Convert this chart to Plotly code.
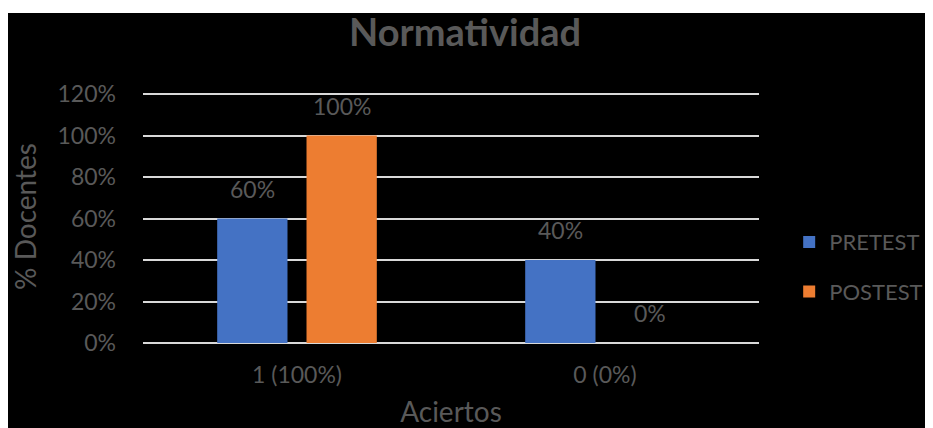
import plotly.graph_objects as go

categories = ["1 (100%)", "0 (0%)"]
pretest = [0.60, 0.40]
postest = [1.00, 0.00]
series_names = ["PRETEST", "POSTEST"]
colors = ["#4472C4", "#ED7D31"]
y_ticks = [0, 0.2, 0.4, 0.6, 0.8, 1.0, 1.2]
y_ticklabels = ["0%", "20%", "40%", "60%", "80%", "100%", "120%"]

TXT = "#595959"
FONT = "Lato"

W, H = 925, 420
L, R, T, B = 135, 174, 82, 85
pw, ph = W - L - R, H - T - B
ytop = 1.2 * ph / 249.0

fig = go.Figure()
for i, (name, vals) in enumerate(zip(series_names, [pretest, postest])):
    fig.add_trace(go.Bar(
        x=categories, y=vals, name=name, marker_color=colors[i],
        marker_line_width=0, legendgroup=name,
    ))

# data labels
slot = pw / len(categories) * (1 - 0.42) / 2
for i, vals in enumerate([pretest, postest]):
    shift = (i - 0.5) * slot
    for c, v in zip(categories, vals):
        fig.add_annotation(
            x=c, y=v, text=f"{round(v*100)}%", showarrow=False,
            xshift=shift, yshift=30, yanchor="middle",
            font=dict(family=FONT, size=23, color=TXT),
        )

# black background panel
fig.add_shape(
    type="rect", xref="paper", yref="paper",
    x0=(0 - L) / pw, x1=(W + 20 - L) / pw,
    y0=-(B + 40) / ph, y1=(H - B - 5) / ph,
    fillcolor="black", line_width=0, layer="below",
)

fig.update_layout(
    width=W, height=H,
    margin=dict(l=L, r=R, t=T, b=B, autoexpand=False),
    paper_bgcolor="white", plot_bgcolor="rgba(0,0,0,0)",
    barmode="group", bargap=0.42, bargroupgap=0.213,
    title=dict(
        text="<b>Normatividad</b>", x=457 / W, xanchor="center",
        y=1 - 25 / H, yanchor="middle", xref="container", yref="container",
        font=dict(family=FONT, size=38, color=TXT),
    ),
    font=dict(family=FONT, color=TXT),
    showlegend=True,
    legend=dict(
        x=1.049, xanchor="left", y=0.30, yanchor="middle",
        font=dict(family=FONT, size=22, color=TXT),
        tracegroupgap=18, traceorder="grouped", itemwidth=30,
        bgcolor="rgba(0,0,0,0)",
    ),
    xaxis=dict(
        automargin=False,
        showgrid=False, showline=False, zeroline=False,
        tickfont=dict(family=FONT, size=23, color=TXT),
        ticklabelstandoff=16,
        title=dict(text="Aciertos", font=dict(family=FONT, size=28, color=TXT), standoff=21),
    ),
    yaxis=dict(
        automargin=False,
        range=[0, ytop], tickvals=y_ticks, ticktext=y_ticklabels,
        showgrid=True, gridcolor="#D9D9D9", gridwidth=2,
        zeroline=True, zerolinecolor="#D9D9D9", zerolinewidth=2,
        showline=False,
        tickfont=dict(family=FONT, size=23, color=TXT),
        ticklabelstandoff=26,
        title=dict(text="% Docentes", font=dict(family=FONT, size=28, color=TXT), standoff=22),
    ),
)

fig.write_html("out.html")
